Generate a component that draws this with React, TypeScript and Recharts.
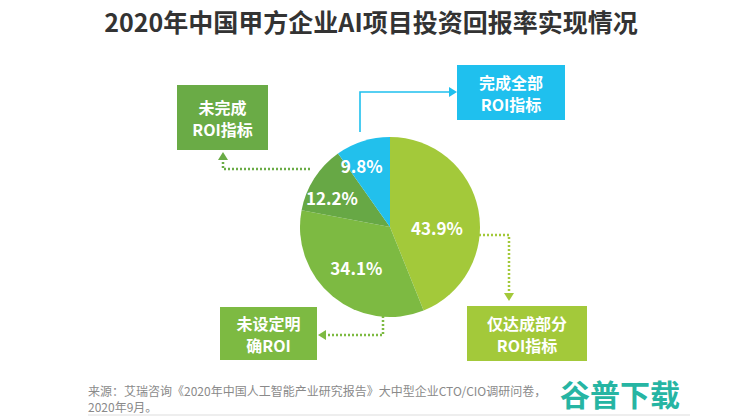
import React from 'react';
import { PieChart, Pie, Cell } from 'recharts';

const categories = ['仅达成部分ROI指标', '未设定明确ROI', '未完成ROI指标', '完成全部ROI指标'];
const values = [43.9, 34.1, 12.2, 9.8];
const boxLines = [
  ['仅达成部分', 'ROI指标'],
  ['未设定明', '确ROI'],
  ['未完成', 'ROI指标'],
  ['完成全部', 'ROI指标'],
];
const title = '2020年中国甲方企业AI项目投资回报率实现情况';
const sourceLine1 = '来源：艾瑞咨询《2020年中国人工智能产业研究报告》大中型企业CTO/CIO调研问卷，';
const sourceLine2 = '2020年9月。';
const watermark = '谷普下载';

const data = categories.map((name, i) => ({ name, value: values[i] }));

const sliceColors = ['#a3c93a', '#7dba42', '#67a845', '#22c0ec'];
const boxColors = ['#a3c93a', '#7dba42', '#6aab46', '#1fc0ee'];
const FONT = '"Noto Sans CJK SC", "Noto Sans", sans-serif';

const CX = 385;
const CY = 222;
const R = 90;
const RAD = Math.PI / 180;

// per-slice label placement tweaks: [radius, angle shift in degrees]
const labelTweaks: [number, number][] = [
  [47, -12],
  [53, 0],
  [65, 6],
  [68, 7],
];

const renderLabel = (props: any) => {
  const { cx, cy, midAngle, index, value } = props;
  const [r, shift] = labelTweaks[index];
  const a = (midAngle + shift) * RAD;
  const x = cx + r * Math.cos(a);
  const y = cy - r * Math.sin(a);
  return (
    <text
      x={x}
      y={y}
      fill="#ffffff"
      fontSize={17}
      fontWeight="bold"
      fontFamily={FONT}
      textAnchor="middle"
      dominantBaseline="central"
    >
      {value.toFixed(1)}%
    </text>
  );
};

const boxes = [
  { x: 467, y: 306, w: 120, h: 55 },
  { x: 220, y: 307, w: 97, h: 53 },
  { x: 177, y: 85, w: 91, h: 65 },
  { x: 457, y: 65, w: 108, h: 55 },
];

export default function App() {
  return (
    <div style={{ position: 'absolute', left: 0, top: 0, width: 740, height: 416, background: '#fff' }}>
      <PieChart width={740} height={416} style={{ position: 'absolute', left: 0, top: 0 }}>
        <Pie
          data={data}
          dataKey="value"
          nameKey="name"
          cx={CX}
          cy={CY}
          outerRadius={R}
          startAngle={90}
          endAngle={-270}
          stroke="none"
          label={renderLabel}
          labelLine={false}
          isAnimationActive={false}
        >
          {data.map((d, i) => (
            <Cell key={d.name} fill={sliceColors[i]} />
          ))}
        </Pie>
      </PieChart>
      <svg width={740} height={416} style={{ position: 'absolute', left: 0, top: 0, pointerEvents: 'none' }}>
        <text x={371} y={21} textAnchor="middle" dominantBaseline="central" fontSize={25} fontWeight="bold" fill="#333" fontFamily={FONT}>
          {title}
        </text>

        {/* connectors */}
        <polyline points={`360,${CY - R} 360,92 450,92`} fill="none" stroke={boxColors[3]} strokeWidth={1.6} />
        <polygon points="449,87 457,92 449,97" fill={boxColors[3]} />

        <polyline points="310,169 223,169 223,159" fill="none" stroke={boxColors[2]} strokeWidth={2.5} strokeDasharray="2 2" />
        <polygon points="218,160 223,152 228,160" fill={boxColors[2]} />

        <polyline points={`${CX + R},235 509,235 509,293`} fill="none" stroke={boxColors[0]} strokeWidth={2.5} strokeDasharray="2 2" />
        <polygon points="504,293 509,301 514,293" fill={boxColors[0]} />

        <polyline points={`383,${CY + R} 383,335 326,335`} fill="none" stroke={boxColors[1]} strokeWidth={2.5} strokeDasharray="2 2" />
        <polygon points="326,330 318,335 326,340" fill={boxColors[1]} />

        {boxes.map((b, i) => (
          <g key={i}>
            <rect x={b.x} y={b.y} width={b.w} height={b.h} fill={boxColors[i]} />
            <text x={b.x + b.w / 2} y={b.y + b.h / 2 - 11} textAnchor="middle" dominantBaseline="central" fontSize={16} fontWeight="bold" fill="#fff" fontFamily={FONT}>
              {boxLines[i][0]}
            </text>
            <text x={b.x + b.w / 2} y={b.y + b.h / 2 + 11} textAnchor="middle" dominantBaseline="central" fontSize={16} fontWeight="bold" fill="#fff" fontFamily={FONT}>
              {boxLines[i][1]}
            </text>
          </g>
        ))}

        <text x={88} y={390} dominantBaseline="central" fontSize={12} fill="#8a8a8a" fontFamily={FONT}>
          {sourceLine1}
        </text>
        <text x={88} y={406} dominantBaseline="central" fontSize={12} fill="#8a8a8a" fontFamily={FONT}>
          {sourceLine2}
        </text>
        <line x1={88} y1={415} x2={690} y2={415} stroke="#ddd" strokeWidth={1} />
        <text x={560} y={393} dominantBaseline="central" fontSize={30} fontWeight="bold" fill="#26b5a3" fontFamily={FONT}>
          {watermark}
        </text>
      </svg>
    </div>
  );
}
